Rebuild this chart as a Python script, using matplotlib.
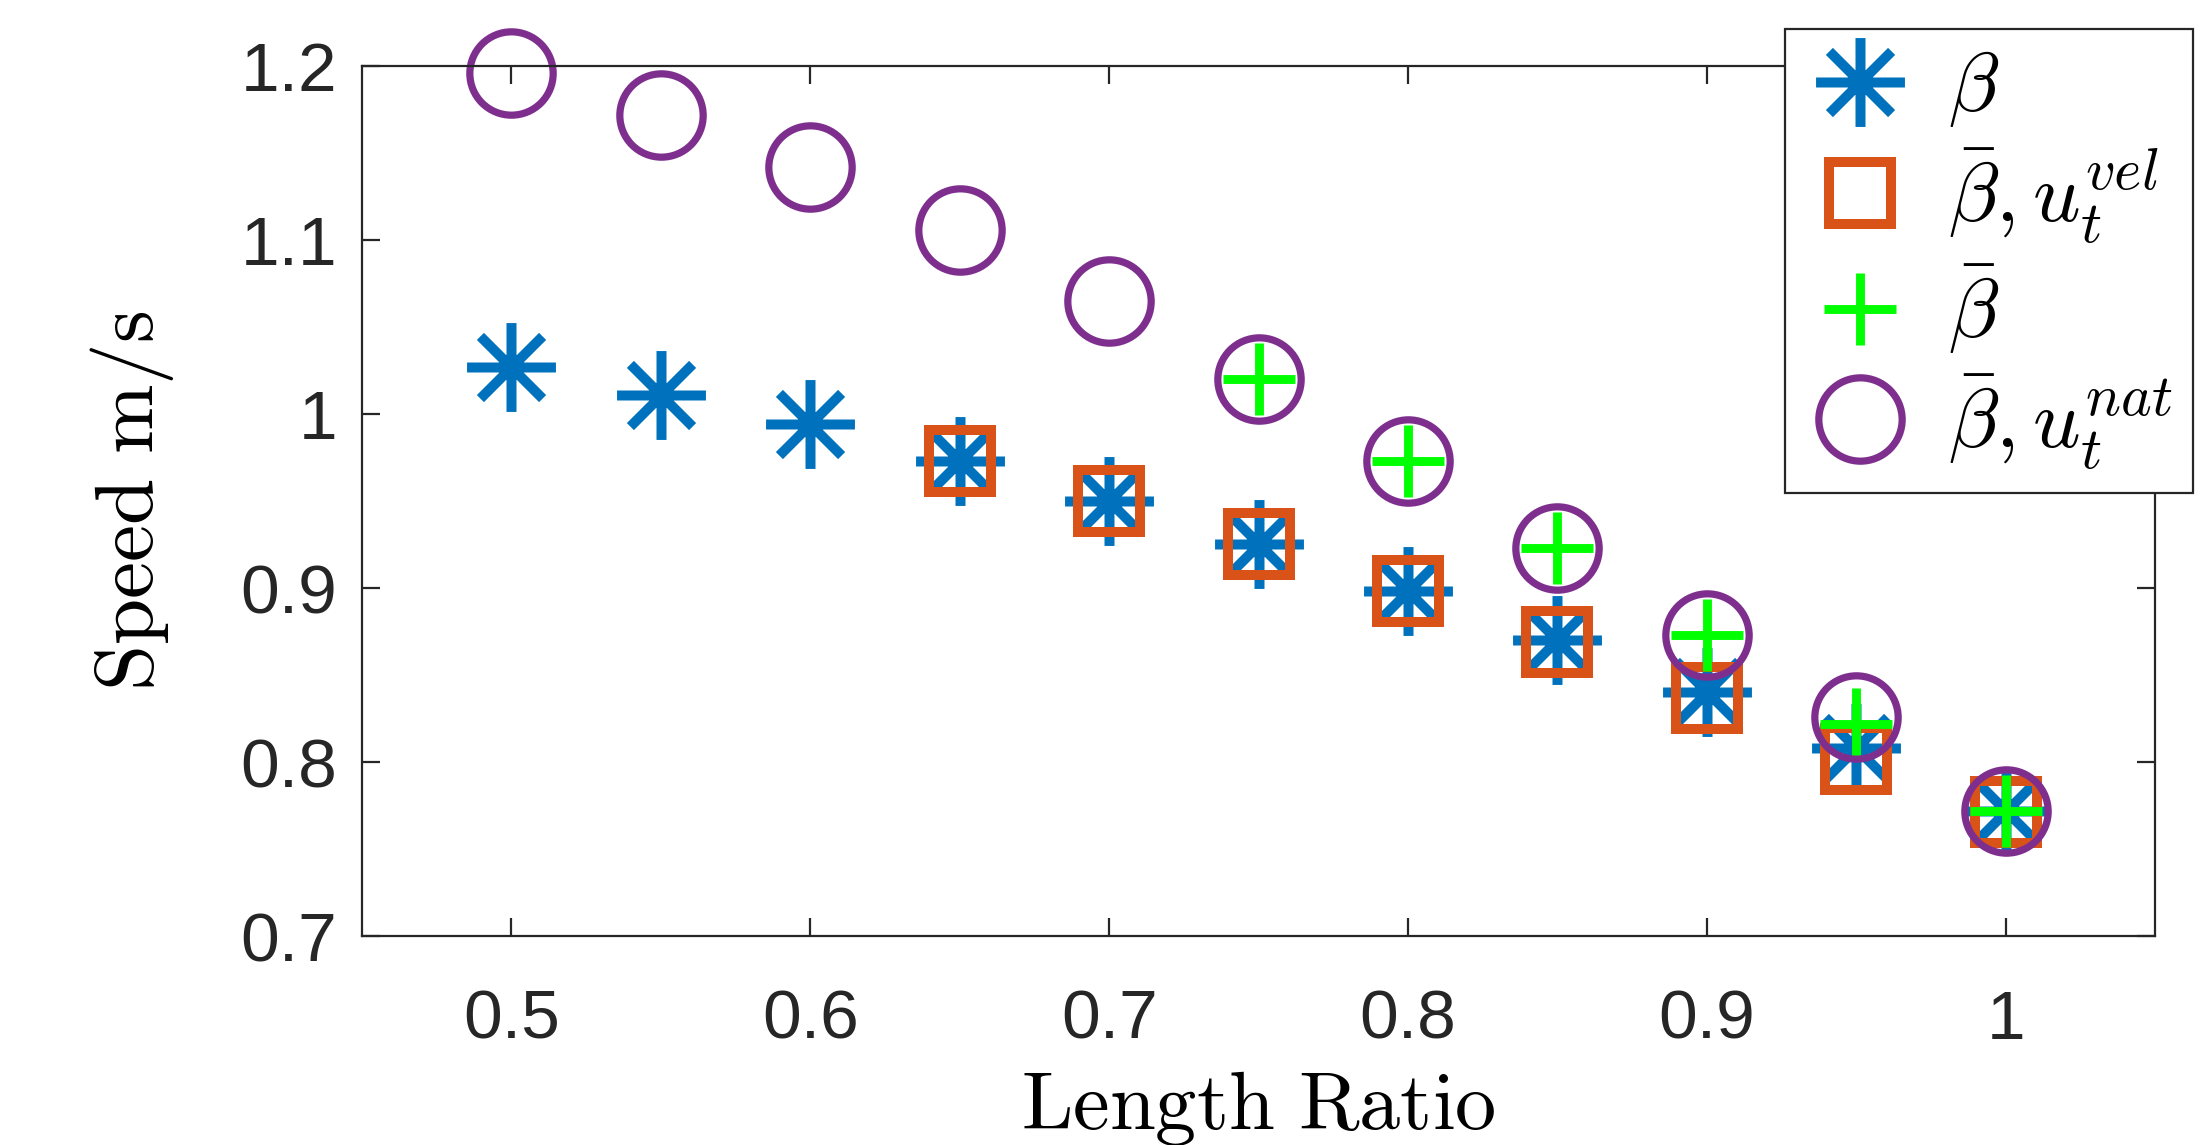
import numpy as np
import matplotlib
matplotlib.use('Agg')
import matplotlib.pyplot as plt
from matplotlib.path import Path

plt.rcParams['mathtext.fontset'] = 'cm'
plt.rcParams['font.family'] = ['Liberation Sans', 'DejaVu Sans']

# datos
ratio = [0.5, 0.55, 0.6, 0.65, 0.7, 0.75, 0.8, 0.85, 0.9, 0.95, 1.0]
beta = [1.027, 1.011, 0.994, 0.973, 0.950, 0.925, 0.898, 0.870, 0.840, 0.808, 0.772]
ratio_vel = [0.65, 0.7, 0.75, 0.8, 0.85, 0.9, 0.95, 1.0]
beta_bar_vel = [0.973, 0.950, 0.925, 0.898, 0.869, 0.837, 0.802, 0.771]
ratio_bar = [0.75, 0.8, 0.85, 0.9, 0.95, 1.0]
beta_bar = [1.020, 0.973, 0.923, 0.873, 0.822, 0.772]
beta_bar_nat = [1.196, 1.172, 1.142, 1.106, 1.065, 1.020, 0.973, 0.923, 0.873, 0.826, 0.772]

xticks = [0.5, 0.6, 0.7, 0.8, 0.9, 1.0]
xlabels = ['0.5', '0.6', '0.7', '0.8', '0.9', '1']
yticks = [0.7, 0.8, 0.9, 1.0, 1.1, 1.2]
ylabels = ['0.7', '0.8', '0.9', '1', '1.1', '1.2']

azul = '#0072BD'
naranja = '#D95319'
verde = '#00FF00'
morado = '#7E2F8E'

# asterisco estilo matlab
d = 0.7
verts = [(0, -1), (0, 1), (-1, 0), (1, 0), (-d, -d), (d, d), (-d, d), (d, -d)]
codes = [Path.MOVETO, Path.LINETO] * 4
asterisco = Path(verts, codes)

fig = plt.figure(figsize=(11.01, 5.725), dpi=200)
ax = fig.add_axes([0.1644, 0.1825, 0.8143, 0.7599])

ax.plot(ratio, beta, ls='none', marker=asterisco, ms=32, mew=3.6,
        mec=azul, mfc='none', label=r'$\beta$', clip_on=False)
ax.plot(ratio_vel, beta_bar_vel, ls='none', marker='s', ms=22.5, mew=3.6,
        mec=naranja, mfc='none', label=r'$\bar{\beta}, u_t^{vel}$', clip_on=False)
ax.plot(ratio_bar, beta_bar, ls='none', marker='+', ms=26, mew=3.2,
        mec=verde, label=r'$\bar{\beta}$', clip_on=False)
ax.plot(ratio, beta_bar_nat, ls='none', marker='o', ms=30, mew=2.6,
        mec=morado, mfc='none', label=r'$\bar{\beta}, u_t^{nat}$', clip_on=False)

ax.set_xlim(0.45, 1.05)
ax.set_ylim(0.7, 1.2)
ax.set_xticks(xticks, xlabels)
ax.set_yticks(yticks, ylabels)
ax.tick_params(direction='in', length=6.5, width=0.8, color='#262626',
               labelsize=25, labelcolor='#262626', top=True, right=True)
ax.tick_params(axis='x', pad=19)
ax.tick_params(axis='y', pad=9)
for s in ax.spines.values():
    s.set_color('#262626')
    s.set_linewidth(0.8)

ax.set_xlabel(r'$\mathrm{Length\ Ratio}$', fontsize=29.7, labelpad=6)
ax.set_ylabel(r'$\mathrm{Speed\ m/s}$', fontsize=30, labelpad=23)

leg = ax.legend(loc='upper right', bbox_to_anchor=(0.996, 0.975),
                bbox_transform=fig.transFigure, borderaxespad=0,
                fontsize=30, frameon=True, fancybox=False, framealpha=1,
                edgecolor='#262626', handlelength=1.3, handletextpad=0.4,
                borderpad=0.25, labelspacing=0.2)
leg.get_frame().set_linewidth(0.8)
leg.set_zorder(5)

fig.savefig('out.png', dpi=200)
